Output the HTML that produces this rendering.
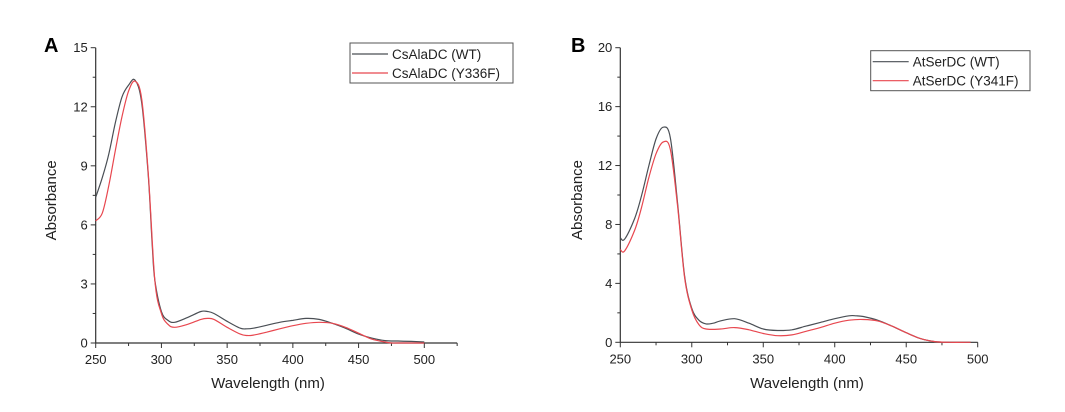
<!DOCTYPE html>
<html><head><meta charset="utf-8"><style>
body{margin:0;background:#fff;}
svg{display:block;font-family:"Liberation Sans",Arial,sans-serif;}
</style></head><body>
<svg id="svg" width="1065" height="412" viewBox="0 0 1065 412"></svg>
<script>
const NS="http://www.w3.org/2000/svg";
// Panel A data
const aWl=[250,255,260,265,270,275,280,285,290,293,295,300,305,310,320,330,335,340,350,360,365,370,380,390,400,410,420,430,440,450,460,470,480,490,500];
const aWT=[7.4,8.4,9.6,11.2,12.5,13.1,13.35,12.2,8.5,5,3.2,1.6,1.15,1.05,1.3,1.6,1.6,1.5,1.1,0.75,0.72,0.75,0.9,1.05,1.15,1.25,1.2,1.0,0.75,0.45,0.25,0.12,0.1,0.08,0.05];
const aMutWl=[250,255,260,265,270,275,280,285,290,295,300,305,310,320,330,335,340,350,360,365,370,380,390,400,410,420,430,440,450,460,470,475,480,500];
const aMut=[6.2,6.6,8.0,9.8,11.5,12.8,13.3,12.4,8.6,3.2,1.5,0.95,0.8,0.95,1.2,1.25,1.2,0.8,0.45,0.38,0.4,0.55,0.72,0.88,1.0,1.05,1.0,0.8,0.5,0.2,0.05,0,0,0];
const aYTicks=[0,3,6,9,12,15];
const aXTicks=[250,300,350,400,450,500];
// Panel B data
const bWl=[250,253,260,265,270,275,280,285,290,295,300,305,310,315,320,330,340,350,360,370,380,390,400,410,415,420,430,440,450,460,470,480,495];
const bWT=[7.1,7.0,8.4,10,12,13.8,14.6,13.9,9.5,4.5,2.3,1.5,1.25,1.3,1.45,1.6,1.3,0.9,0.8,0.85,1.1,1.35,1.6,1.8,1.8,1.75,1.5,1.1,0.65,0.25,0.05,0,0];
const bMutWl=[250,253,260,265,270,275,280,285,290,295,300,305,310,320,330,340,350,360,370,380,390,400,410,420,430,440,450,460,470,480,495];
const bMut=[6.3,6.2,7.6,9.2,11.2,12.8,13.6,13.1,9.3,4.4,2.2,1.2,0.9,0.9,1.0,0.85,0.6,0.45,0.5,0.75,1.0,1.3,1.5,1.55,1.45,1.1,0.65,0.25,0.05,0,0];
const bYTicks=[0,4,8,12,16,20];
const bXTicks=[250,300,350,400,450,500];

const svg=document.getElementById('svg');
function mk(tag,attrs,parent,text){const e=document.createElementNS(NS,tag);for(const k in attrs)e.setAttribute(k,attrs[k]);if(text!==undefined)e.textContent=text;(parent||svg).appendChild(e);return e;}
function smooth(pts){
  let d='M'+pts[0][0].toFixed(1)+' '+pts[0][1].toFixed(1);
  for(let i=0;i<pts.length-1;i++){
    const p0=pts[Math.max(0,i-1)],p1=pts[i],p2=pts[i+1],p3=pts[Math.min(pts.length-1,i+2)];
    const c1x=p1[0]+(p2[0]-p0[0])/6,c1y=p1[1]+(p2[1]-p0[1])/6;
    const c2x=p2[0]-(p3[0]-p1[0])/6,c2y=p2[1]-(p3[1]-p1[1])/6;
    d+=` C${c1x.toFixed(1)} ${c1y.toFixed(1)} ${c2x.toFixed(1)} ${c2y.toFixed(1)} ${p2[0].toFixed(1)} ${p2[1].toFixed(1)}`;
  }
  return d;
}

function panel(p){
  const g=mk('g',{});
  
  
  const sx=v=>p.x0+(v-250)/250*(p.x1-p.x0);
  const sy=v=>p.y0-(v/p.ymax)*(p.y0-p.yTop);
  const axX=sx(p.xEnd);
  let t=mk('text',{x:p.lx,y:52,'font-size':20,'font-weight':'bold',fill:'#000'},g,p.letter);
  
  
  let ya=mk('line',{x1:p.x0,y1:p.yTop,x2:p.x0,y2:p.y0,stroke:'#333','stroke-width':1.2},g);
  
  
  let xa=mk('line',{x1:p.x0,y1:p.y0,x2:axX,y2:p.y0,stroke:'#333','stroke-width':1.2},g);
  
  
  p.yTicks.forEach((v,i)=>{
    const y=sy(v);
    mk('line',{x1:p.x0-5,y1:y,x2:p.x0,y2:y,stroke:'#333'},g);
    if(i<p.yTicks.length-1){const ym=sy(v+(p.yTicks[1]-p.yTicks[0])/2);mk('line',{x1:p.x0-3,y1:ym,x2:p.x0,y2:ym,stroke:'#333'},g);}
    const tl=mk('text',{x:p.x0-8,y:y+4.5,'font-size':13,'text-anchor':'end',fill:'#222'},g,v);
    
    
  });
  for(let v=250;v<=p.xEnd+0.1;v+=25){
    const x=sx(v);const major=(v%50===0);
    mk('line',{x1:x,y1:p.y0,x2:x,y2:p.y0+(major?5:3),stroke:'#333'},g);
  }
  p.xTicks.forEach(v=>{
    const tl=mk('text',{x:sx(v),y:p.y0+21,'font-size':13,'text-anchor':'middle',fill:'#222'},g,v);
    
    
  });
  const xt=mk('text',{x:(p.x0+p.x1)/2+8,y:388,'font-size':15,'text-anchor':'middle',fill:'#222'},g,'Wavelength (nm)');
  
  
  const yt=mk('text',{x:0,y:0,'font-size':15,'text-anchor':'middle',fill:'#222',transform:`translate(${p.ytx},${(p.yTop+p.y0)/2+5}) rotate(-90)`},g,'Absorbance');
  
  
  p.series.forEach(s=>{
    const pts=s.wl.map((w,i)=>[sx(w),sy(s.v[i])]);
    const pa=mk('path',{d:smooth(pts),fill:'none',stroke:s.c,'stroke-width':1.2,'stroke-linejoin':'round'},g);
    
    
  });
  const L=p.leg;
  const lg=mk('g',{},g);
  
  
  mk('rect',{x:L.x,y:L.y,width:L.w,height:L.h,fill:'#fff',stroke:'#555','stroke-width':1},lg);
  p.series.forEach((s,i)=>{
    const y=L.y+11+i*19;
    mk('line',{x1:L.x+2,y1:y,x2:L.x+38,y2:y,stroke:s.c,'stroke-width':1.2},lg);
    const lt=mk('text',{x:L.x+42,y:y+5,'font-size':13.5,fill:'#222'},lg,s.label);
    
    
  });
}
panel({id:'panel-a',letter:'A',lx:44,x0:95.7,x1:424.3,xEnd:525,y0:343,yTop:47.7,ymax:15,yTicks:aYTicks,xTicks:aXTicks,ytx:56,
  leg:{x:350,y:43,w:163,h:40},
  series:[{name:'line-cs-wt',wl:aWl,v:aWT,c:'#4a4f55',label:'CsAlaDC (WT)'},{name:'line-cs-y336f',wl:aMutWl,v:aMut,c:'#e8474f',label:'CsAlaDC (Y336F)'}]});
panel({id:'panel-b',letter:'B',lx:571,x0:620.3,x1:977.7,xEnd:500,y0:342.3,yTop:47.7,ymax:20,yTicks:bYTicks,xTicks:bXTicks,ytx:582,
  leg:{x:870.7,y:50.7,w:159.3,h:40},
  series:[{name:'line-at-wt',wl:bWl,v:bWT,c:'#4a4f55',label:'AtSerDC (WT)'},{name:'line-at-y341f',wl:bMutWl,v:bMut,c:'#e8474f',label:'AtSerDC (Y341F)'}]});
</script>
</body></html>
